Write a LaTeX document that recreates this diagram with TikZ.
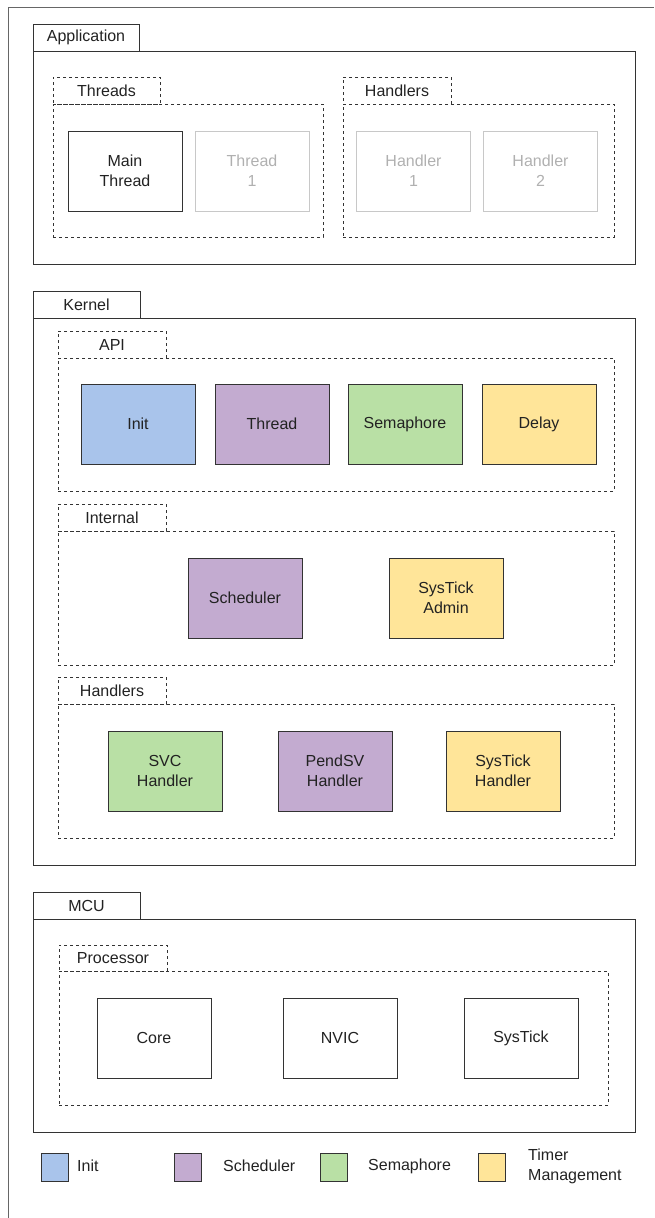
\documentclass[tikz,border=0pt]{standalone}
\usepackage{fontspec}
\setmainfont{Liberation Sans}
\definecolor{cinit}{HTML}{A9C4EB}
\definecolor{csched}{HTML}{C3ABD0}
\definecolor{csem}{HTML}{B9E0A5}
\definecolor{ctimer}{HTML}{FFE599}
\definecolor{cline}{HTML}{333333}
\definecolor{ctext}{HTML}{222222}
\definecolor{clight}{HTML}{C8C8C8}
\definecolor{clighttext}{HTML}{B0B0B0}
\definecolor{cframe}{HTML}{666666}
\begin{document}
\begin{tikzpicture}[x=1pt,y=-1pt,
  font=\fontsize{16}{20}\selectfont,
  base/.style={rectangle, inner sep=0pt, outer sep=0pt, line width=1pt, draw=cline, text=ctext, align=center},
  box/.style={base, minimum width=114pt, minimum height=80pt},
  lbox/.style={box, draw=clight, text=clighttext},
  tab/.style={base, minimum width=107pt, minimum height=27pt},
  dtab/.style={tab, dash pattern=on 3pt off 3pt},
  frame/.style={base},
  dframe/.style={base, dash pattern=on 3pt off 3pt},
  legsq/.style={base, minimum width=27pt, minimum height=28pt},
  legtxt/.style={anchor=west, inner sep=0pt, text=ctext, align=left}
]
\useasboundingbox (0,0) rectangle (654,1218);
% outer frame
\coordinate (fa) at (8,1218);
\coordinate (fb) at (8,7);
\coordinate (fc) at (654,7);
\draw[cframe, line width=1pt] (fa) -- (fb) -- (fc);

% Application
\node[frame, minimum width=602pt, minimum height=213pt] (app) at (334,157.5) {};
\node[tab, minimum width=106pt] (apptab) at (86,37.5) {Application};
\node[dframe, minimum width=270pt, minimum height=133pt] (thr) at (188,170.5) {};
\node[dtab] (thrtab) at (106.5,90.5) {Threads};
\node[box] (mainthr) at (125,171) {Main\\Thread};
\node[lbox] (thr1) at (252,171) {Thread\\1};
\node[dframe, minimum width=271pt, minimum height=133pt] (hnd) at (478.5,170.5) {};
\node[dtab, minimum width=108pt] (hndtab) at (397,90.5) {Handlers};
\node[lbox] (hnd1) at (413.5,171) {Handler\\1};
\node[lbox] (hnd2) at (540.5,171) {Handler\\2};

% Kernel
\node[frame, minimum width=602pt, minimum height=547pt] (kern) at (334,591.5) {};
\node[tab] (kerntab) at (86.5,304.5) {Kernel};
\node[dframe, minimum width=556pt, minimum height=133pt] (api) at (336,424.5) {};
\node[dtab, minimum width=108pt] (apitab) at (112,344.5) {API};
\node[box, fill=cinit] (init) at (138,424) {Init};
\node[box, fill=csched] (thread) at (272,424) {Thread};
\node[box, fill=csem] (sem) at (405,424) {Semaphore};
\node[box, fill=ctimer] (delay) at (539,424) {Delay};

\node[dframe, minimum width=556pt, minimum height=134pt] (intl) at (336,598) {};
\node[dtab, minimum width=108pt] (intltab) at (112,517.5) {Internal};
\node[box, fill=csched] (sched) at (245,598) {Scheduler};
\node[box, fill=ctimer] (stadmin) at (446,598) {SysTick\\Admin};

\node[dframe, minimum width=556pt, minimum height=134pt] (khnd) at (336,771) {};
\node[dtab, minimum width=108pt] (khndtab) at (112,690.5) {Handlers};
\node[box, fill=csem] (svc) at (165,771) {SVC\\Handler};
\node[box, fill=csched] (pendsv) at (335,771) {PendSV\\Handler};
\node[box, fill=ctimer] (sthnd) at (503,771) {SysTick\\Handler};

% MCU
\node[frame, minimum width=602pt, minimum height=213pt] (mcu) at (334,1025.5) {};
\node[tab] (mcutab) at (86.5,905.5) {MCU};
\node[dframe, minimum width=549pt, minimum height=134pt] (proc) at (333.5,1038) {};
\node[dtab, minimum width=108pt, minimum height=26pt] (proctab) at (113,958) {Processor};
\node[box] (core) at (154,1038) {Core};
\node[box] (nvic) at (340,1038) {NVIC};
\node[box] (systick) at (521,1038) {SysTick};

% Legend
\node[legsq, fill=cinit] (lg1) at (54.5,1167) {};
\node[legtxt] (lt1) at (77,1166) {Init};
\node[legsq, fill=csched] (lg2) at (188,1167) {};
\node[legtxt] (lt2) at (223,1166) {Scheduler};
\node[legsq, fill=csem] (lg3) at (334,1167) {};
\node[legtxt] (lt3) at (368,1166) {Semaphore};
\node[legsq, fill=ctimer] (lg4) at (492,1167) {};
\node[legtxt] (lt4) at (528,1166) {Timer\\Management};
\end{tikzpicture}
\end{document}
